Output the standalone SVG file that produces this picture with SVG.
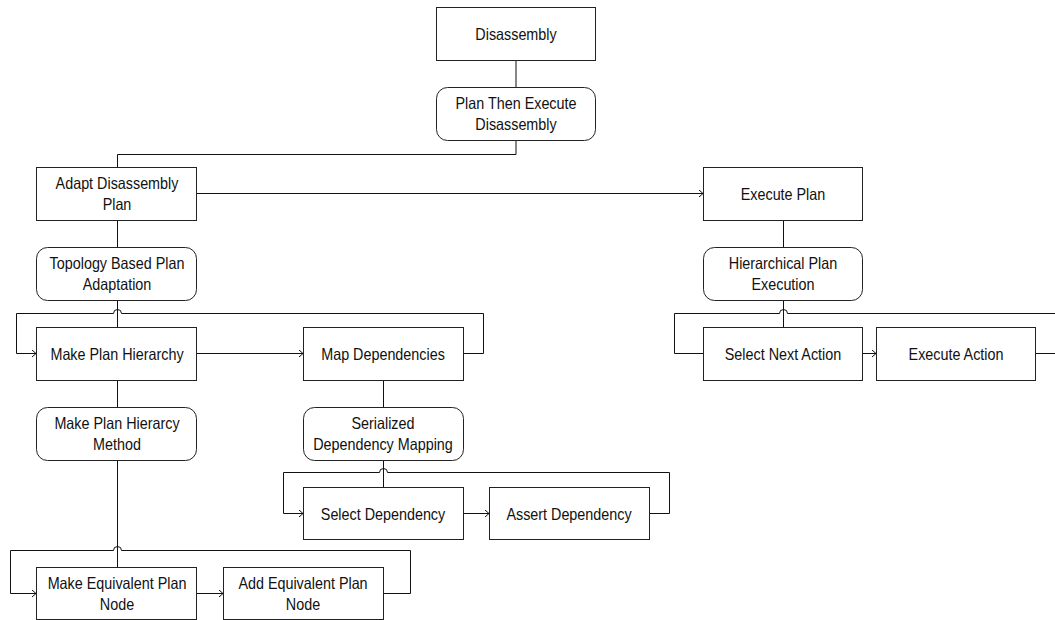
<svg xmlns="http://www.w3.org/2000/svg" width="1055" height="620" viewBox="0 0 1055 620">
<defs>
<style>
.b{fill:#fff;stroke:#222;stroke-width:1}
.t{font-family:"Liberation Sans",Arial,sans-serif;font-size:16.5px;fill:#111;text-anchor:middle}
.c{fill:none;stroke:#111;stroke-width:1}
</style>
<marker id="a" markerWidth="8" markerHeight="8" refX="6" refY="4" orient="auto" markerUnits="userSpaceOnUse">
<path d="M2,0.5 L6,4 L2,7.5" fill="none" stroke="#111" stroke-width="1"/>
</marker>
</defs>
<rect width="1055" height="620" fill="#fff"/>
<g id="connectors">
<path class="c" d="M516,60 V87"/>
<path class="c" d="M516,140 V154.5 H117.5 V167"/>
<path class="c" d="M197,193.5 H703" marker-end="url(#a)"/>
<path class="c" d="M117.5,220 V247"/>
<path class="c" d="M117.5,301 V327"/>
<path class="c" d="M197,353.5 H303" marker-end="url(#a)"/>
<path class="c" d="M463,353.5 H483.5 V313.5 H121.5 A4,4 0 0 0 113.5,313.5 H16.5 V353.5 H36" marker-end="url(#a)"/>
<path class="c" d="M117.5,380 V407"/>
<path class="c" d="M117.5,460 V567"/>
<path class="c" d="M383,593.5 H410.5 V550.5 H121.5 A4,4 0 0 0 113.5,550.5 H10.5 V593.5 H36" marker-end="url(#a)"/>
<path class="c" d="M197,593.5 H223" marker-end="url(#a)"/>
<path class="c" d="M383.5,380 V407"/>
<path class="c" d="M383.5,460 V487"/>
<path class="c" d="M463,513.5 H489" marker-end="url(#a)"/>
<path class="c" d="M649,513.5 H669.5 V472.5 H387.5 A4,4 0 0 0 379.5,472.5 H283.5 V513.5 H303" marker-end="url(#a)"/>
<path class="c" d="M783.5,220 V247"/>
<path class="c" d="M783.5,301 V327"/>
<path class="c" d="M862,353.5 H876" marker-end="url(#a)"/>
<path class="c" d="M1036,353.5 H1060 V313.5 H787.5 A4,4 0 0 0 779.5,313.5 H674.5 V353.5 H703"/>
</g>
<g id="n-disassembly"><rect class="b" x="436.5" y="7.5" width="159" height="53"/><text class="t" transform="matrix(0.87 0 0 1 516 40)">Disassembly</text></g>
<g id="n-plan-then-execute"><rect class="b" x="436.5" y="87.5" width="159" height="53" rx="11"/><text class="t" transform="matrix(0.87 0 0 1 516 109)">Plan Then Execute</text><text class="t" transform="matrix(0.87 0 0 1 516 130)">Disassembly</text></g>
<g id="n-adapt"><rect class="b" x="36.5" y="167.5" width="160" height="53"/><text class="t" transform="matrix(0.87 0 0 1 117 189)">Adapt Disassembly</text><text class="t" transform="matrix(0.87 0 0 1 117 210)">Plan</text></g>
<g id="n-execute-plan"><rect class="b" x="703.5" y="167.5" width="159" height="53"/><text class="t" transform="matrix(0.87 0 0 1 783 200)">Execute Plan</text></g>
<g id="n-topology"><rect class="b" x="36.5" y="247.5" width="160" height="53" rx="11"/><text class="t" transform="matrix(0.87 0 0 1 117 269)">Topology Based Plan</text><text class="t" transform="matrix(0.87 0 0 1 117 290)">Adaptation</text></g>
<g id="n-hier-exec"><rect class="b" x="703.5" y="247.5" width="159" height="53" rx="11"/><text class="t" transform="matrix(0.87 0 0 1 783 269)">Hierarchical Plan</text><text class="t" transform="matrix(0.87 0 0 1 783 290)">Execution</text></g>
<g id="n-make-hier"><rect class="b" x="36.5" y="327.5" width="160" height="53"/><text class="t" transform="matrix(0.87 0 0 1 117 360)">Make Plan Hierarchy</text></g>
<g id="n-map-dep"><rect class="b" x="303.5" y="327.5" width="160" height="53"/><text class="t" transform="matrix(0.87 0 0 1 383 360)">Map Dependencies</text></g>
<g id="n-select-next"><rect class="b" x="703.5" y="327.5" width="159" height="53"/><text class="t" transform="matrix(0.87 0 0 1 783 360)">Select Next Action</text></g>
<g id="n-exec-action"><rect class="b" x="876.5" y="327.5" width="159" height="53"/><text class="t" transform="matrix(0.87 0 0 1 956 360)">Execute Action</text></g>
<g id="n-make-hier-method"><rect class="b" x="36.5" y="407.5" width="160" height="53" rx="11"/><text class="t" transform="matrix(0.87 0 0 1 117 429)">Make Plan Hierarcy</text><text class="t" transform="matrix(0.87 0 0 1 117 450)">Method</text></g>
<g id="n-serialized"><rect class="b" x="303.5" y="407.5" width="160" height="53" rx="11"/><text class="t" transform="matrix(0.87 0 0 1 383 429)">Serialized</text><text class="t" transform="matrix(0.87 0 0 1 383 450)">Dependency Mapping</text></g>
<g id="n-select-dep"><rect class="b" x="303.5" y="487.5" width="160" height="52"/><text class="t" transform="matrix(0.87 0 0 1 383 520)">Select Dependency</text></g>
<g id="n-assert-dep"><rect class="b" x="489.5" y="487.5" width="160" height="52"/><text class="t" transform="matrix(0.87 0 0 1 569 520)">Assert Dependency</text></g>
<g id="n-make-equiv"><rect class="b" x="36.5" y="567.5" width="160" height="52"/><text class="t" transform="matrix(0.87 0 0 1 117 589)">Make Equivalent Plan</text><text class="t" transform="matrix(0.87 0 0 1 117 610)">Node</text></g>
<g id="n-add-equiv"><rect class="b" x="223.5" y="567.5" width="160" height="52"/><text class="t" transform="matrix(0.87 0 0 1 303 589)">Add Equivalent Plan</text><text class="t" transform="matrix(0.87 0 0 1 303 610)">Node</text></g>
</svg>
